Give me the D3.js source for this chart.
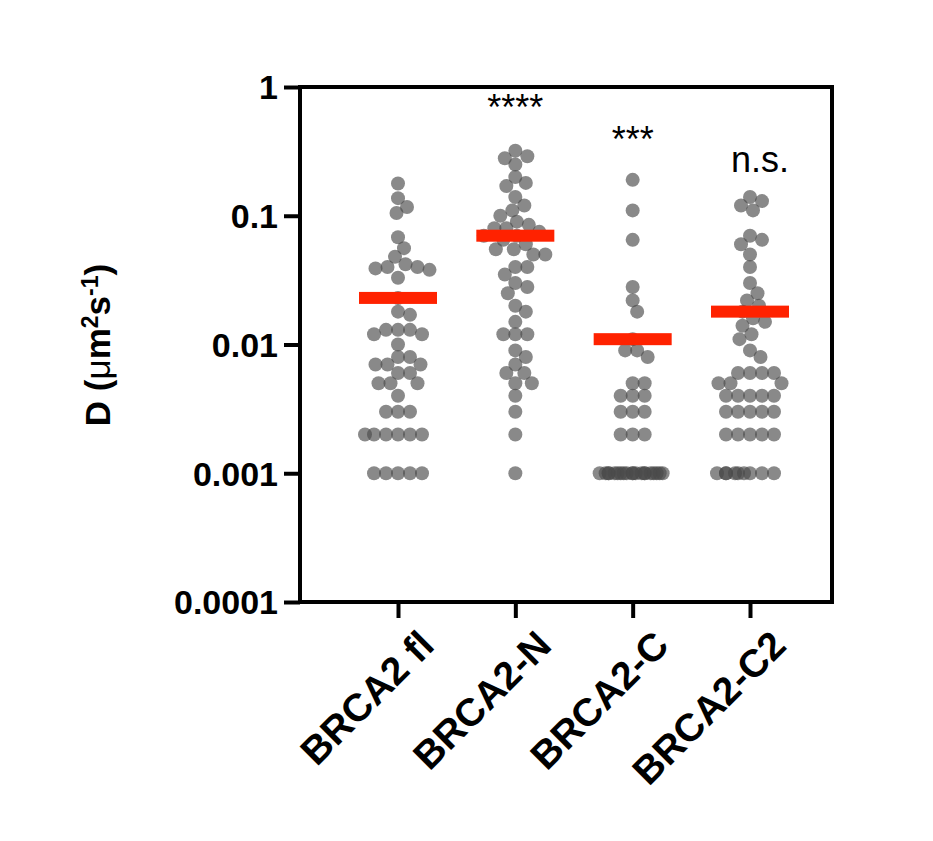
<!DOCTYPE html><html><head><meta charset="utf-8"><script src="https://d3js.org/d3.v7.min.js"></script>
<style>body{margin:0;background:#fff}</style></head><body><svg id="c" width="933" height="841"></svg>
<script>
const categories=["BRCA2 fl","BRCA2-N","BRCA2-C","BRCA2-C2"];
const flValues=[0.178,0.137,0.117,0.105,0.068,0.056,0.048,0.04,0.038,0.042,0.04,0.039,0.033,0.023,0.018,0.017,0.013,0.013,0.012,0.013,0.012,0.010,0.008,0.008,0.007,0.007,0.007,0.006,0.006,0.005,0.005,0.005,0.004,0.003,0.003,0.003,0.002,0.002,0.002,0.002,0.002,0.002,0.001,0.001,0.001,0.001,0.001];
const nValues=[0.32,0.29,0.28,0.25,0.2,0.18,0.17,0.14,0.12,0.11,0.1,0.09,0.085,0.08,0.08,0.075,0.07,0.07,0.065,0.06,0.055,0.055,0.05,0.05,0.04,0.04,0.035,0.03,0.028,0.025,0.02,0.018,0.015,0.012,0.012,0.012,0.009,0.008,0.007,0.006,0.006,0.005,0.005,0.004,0.003,0.002,0.001];
const cValues=[0.19,0.11,0.065,0.028,0.022,0.018,0.011,0.009,0.009,0.008,0.005,0.005,0.004,0.004,0.004,0.003,0.003,0.003,0.002,0.002,0.002].concat(Array(20).fill(0.001));
const c2Values=[0.14,0.13,0.12,0.11,0.07,0.065,0.06,0.05,0.04,0.03,0.025,0.022,0.02,0.018,0.016,0.015,0.014,0.012,0.011,0.009,0.008,0.006,0.006,0.006,0.006,0.005,0.005,0.005,0.004,0.004,0.004,0.004,0.004,0.003,0.003,0.003,0.003,0.003,0.002,0.002,0.002,0.002,0.002].concat(Array(9).fill(0.001));
const seriesValues=[flValues,nValues,cValues,c2Values];
const centerValues=[0.023,0.07,0.011,0.018];
const annotations=["","****","***","n.s."];
const annotationValues=[0,0.55,0.31,0.22];
const yTicks=[1,0.1,0.01,0.001,0.0001];
const yTickLabels=["1","0.1","0.01","0.001","0.0001"];

const svg=d3.select("#c");
const L=300,R=832,T=87,B=602;
const y=d3.scaleLog().domain([0.0001,1]).range([B,T]);
const x=d3.scalePoint().domain(categories).range([398,750]);
const cx=c=>x(c);
const r=7, W=33;
const FONT="Liberation Sans, Arial";
seriesValues.forEach((vals,i)=>{
  const c=categories[i];
  const placed=[];
  let cnt=0;
  vals.slice().sort((a,b)=>b-a).forEach(v=>{
    const py=y(v);
    let best=null;
    for(let k=0;k<=W/1.5&&best===null;k++){
      for(const s of (k===0?[0]:[k*1.5,-k*1.5])){
        if(placed.every(p=>(p[0]-s)**2+(p[1]-py)**2>=(2*r*0.85)**2)){best=s;break;}
      }
    }
    if(best===null){best=-W+((cnt*9)%(2*W));cnt++;}
    placed.push([best,py]);
  });
  svg.append("g").selectAll("circle").data(placed).join("circle")
    .attr("cx",d=>cx(c)+d[0]).attr("cy",d=>d[1]).attr("r",r)
    .attr("fill","#4a4a4a").attr("fill-opacity",0.65);
  svg.append("rect").attr("x",cx(c)-39).attr("y",y(centerValues[i])-6).attr("width",78).attr("height",12).attr("fill","#ff2200");
  if(annotations[i]) svg.append("text").attr("x",cx(c)+(i===3?10:0)).attr("y",y(annotationValues[i])).attr("text-anchor","middle")
    .attr("font-family",FONT).attr("font-size",36).text(annotations[i]);
});
svg.append("rect").attr("x",L).attr("y",T).attr("width",R-L).attr("height",B-T).attr("fill","none").attr("stroke","#000").attr("stroke-width",4);
const ya=svg.append("g").attr("transform",`translate(${L},0)`).call(d3.axisLeft(y).tickValues(yTicks).tickFormat((d,i)=>yTickLabels[i]).tickSize(16).tickPadding(6));
ya.select(".domain").remove();
ya.selectAll("line").attr("stroke-width",4);
ya.selectAll("text").attr("font-family",FONT).attr("font-weight","bold").attr("font-size",34).attr("dy","0.35em");
const xa=svg.append("g").attr("transform",`translate(0,${B})`).call(d3.axisBottom(x).tickSize(16));
xa.select(".domain").remove();
xa.selectAll("line").attr("stroke-width",4);
xa.selectAll("text").attr("font-family",FONT).attr("font-weight","bold").attr("font-size",39)
  .attr("text-anchor","end").attr("transform","translate(28,36) rotate(-45)").attr("dy","0.35em").attr("y",0).attr("x",0);
svg.append("text").attr("transform","translate(110,345) rotate(-90)").attr("text-anchor","middle")
  .attr("font-family",FONT).attr("font-weight","bold").attr("font-size",35)
  .html('D (<tspan font-weight="normal">μ</tspan>m<tspan dy="-12" font-size="23">2</tspan><tspan dy="12">s</tspan><tspan dy="-12" font-size="23">-1</tspan><tspan dy="12">)</tspan>');
</script></body></html>
